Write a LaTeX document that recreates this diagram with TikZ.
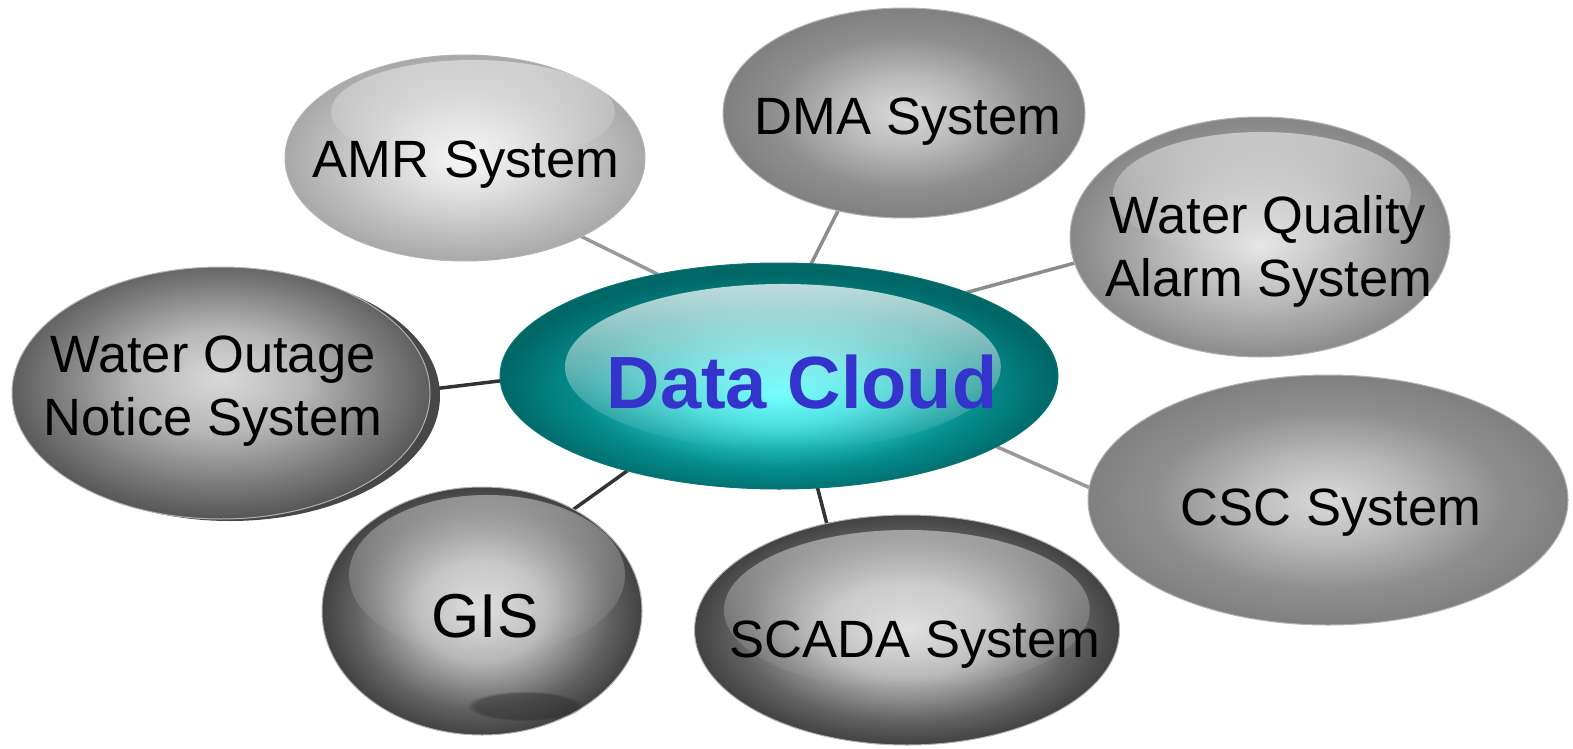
\documentclass[tikz,border=0pt]{standalone}
\usepackage{fontspec}
\setmainfont{Liberation Sans}
\usetikzlibrary{shapes.geometric,fadings}
\pgfdeclarelayer{background}
\pgfsetlayers{background,main}
\pgfdeclareradialshading{amrshade}{\pgfpoint{0bp}{0bp}}{rgb(0bp)=(0.97,0.97,0.97); rgb(10bp)=(0.86,0.86,0.86); rgb(25bp)=(0.66,0.66,0.66); rgb(50bp)=(0.66,0.66,0.66)}
\pgfdeclareradialshading{midshade}{\pgfpoint{0bp}{0bp}}{rgb(0bp)=(0.85,0.85,0.85); rgb(8bp)=(0.74,0.74,0.74); rgb(18bp)=(0.56,0.56,0.56); rgb(25bp)=(0.5,0.5,0.5); rgb(50bp)=(0.5,0.5,0.5)}
\pgfdeclareradialshading{wqshade}{\pgfpoint{0bp}{-2bp}}{rgb(0bp)=(0.9,0.9,0.9); rgb(10bp)=(0.76,0.76,0.76); rgb(25bp)=(0.53,0.53,0.53); rgb(50bp)=(0.53,0.53,0.53)}
\pgfdeclareradialshading{woshade}{\pgfpoint{0bp}{3bp}}{rgb(0bp)=(0.85,0.85,0.85); rgb(10bp)=(0.72,0.72,0.72); rgb(20bp)=(0.48,0.48,0.48); rgb(28bp)=(0.3,0.3,0.3); rgb(50bp)=(0.3,0.3,0.3)}
\pgfdeclareradialshading{darkshade}{\pgfpoint{0bp}{0bp}}{rgb(0bp)=(0.86,0.86,0.86); rgb(10bp)=(0.72,0.72,0.72); rgb(20bp)=(0.38,0.38,0.38); rgb(25bp)=(0.26,0.26,0.26); rgb(50bp)=(0.26,0.26,0.26)}
\pgfdeclareradialshading{dcshade}{\pgfpoint{0bp}{-4bp}}{rgb(0bp)=(0.28,1,1); rgb(8bp)=(0.2,0.85,0.85); rgb(18bp)=(0.02,0.55,0.55); rgb(25bp)=(0,0.4,0.4); rgb(50bp)=(0,0.4,0.4)}
\definecolor{dctext}{HTML}{3434CC}
\definecolor{dcrim}{HTML}{0A7676}
\begin{document}
\begin{tikzpicture}[x=1pt,y=-1pt]
\tikzset{
  bub/.style={ellipse, inner sep=0pt, outer sep=0pt, draw=black!30, line width=1pt},
  hl/.style={fill=white, fill opacity=#1, path fading=south, draw=none},
  hl/.default=0.4,
  lbl/.style={anchor=base, inner sep=0pt, font=\fontsize{52.5}{60}\selectfont},
  link/.style={line width=3.5pt},
}
\useasboundingbox (0,0) rectangle (1573,749);
% Water outage shadow
\fill[black!72] (230,396) ellipse [x radius=210pt, y radius=125pt];
% bubbles
\node[bub, minimum width=360pt, minimum height=206pt, shading=amrshade] (amr) at (465,158) {};
\node[bub, minimum width=362pt, minimum height=210pt, shading=midshade] (dma) at (904,113) {};
\node[bub, minimum width=380pt, minimum height=240pt, shading=wqshade] (wq) at (1260,237) {};
\node[bub, minimum width=418pt, minimum height=252pt, shading=woshade] (wo) at (221,393) {};
\node[bub, minimum width=480pt, minimum height=250pt, shading=midshade] (csc) at (1328,500) {};
\node[bub, minimum width=320pt, minimum height=248pt, shading=darkshade] (gis) at (482,611) {};
\node[bub, minimum width=425pt, minimum height=230pt, shading=darkshade] (scada) at (907,630) {};
\node[bub, draw=dcrim, minimum width=558pt, minimum height=226pt, shading=dcshade] (dc) at (779,376) {};
% highlights
\fill[hl=0.45] (473,112) ellipse [x radius=142pt, y radius=52pt];
\fill[hl=0.5] (1262,194) ellipse [x radius=149pt, y radius=62pt];
\fill[hl=0.4] (487,575) ellipse [x radius=138pt, y radius=80pt];
\fill[hl=0.45] (907,610) ellipse [x radius=183pt, y radius=80pt];
\fill[hl=0.75] (783,367) ellipse [x radius=218pt, y radius=83pt];
\fill[black!85, fill opacity=0.45, path fading=circle with fuzzy edge 15 percent] (525,706) ellipse [x radius=58pt, y radius=15pt];
% connectors
\begin{pgfonlayer}{background}
\draw[link, draw=black!40] (amr.-34) -- (dc.140);
\draw[link, draw=black!45] (dma.-124) -- (dc.74);
\draw[link, draw=black!45] (wq.-172) -- (dc.24);
\draw[link, draw=black!80] (wo.1) -- (dc.-179);
\draw[link, draw=black!40] (csc.177) -- (dc.-18);
\draw[link, draw=black!80] (gis.48) -- (dc.-148);
\draw[link, draw=black!80] (scada.127) -- (dc.-71);
\end{pgfonlayer}
% labels
\node[lbl] (amrT) at (466,177) {AMR System};
\node[lbl] (dmaT) at (908,135) {DMA System};
\node[lbl] (wqT1) at (1268,233) {Water Quality};
\node[lbl] (wqT2) at (1269,296) {Alarm System};
\node[lbl] (woT1) at (213,372) {Water Outage};
\node[lbl] (woT2) at (213,435) {Notice System};
\node[lbl] (cscT) at (1331,525) {CSC System};
\node[lbl, font=\fontsize{62}{66}\selectfont] (gisT) at (485,637) {GIS};
\node[lbl] (scadaT) at (915,657) {SCADA System};
\node[anchor=base, inner sep=0pt, text=dctext, font=\fontsize{74}{80}\selectfont\bfseries] (dcT) at (802,408) {Data Cloud};
\end{tikzpicture}
\end{document}
